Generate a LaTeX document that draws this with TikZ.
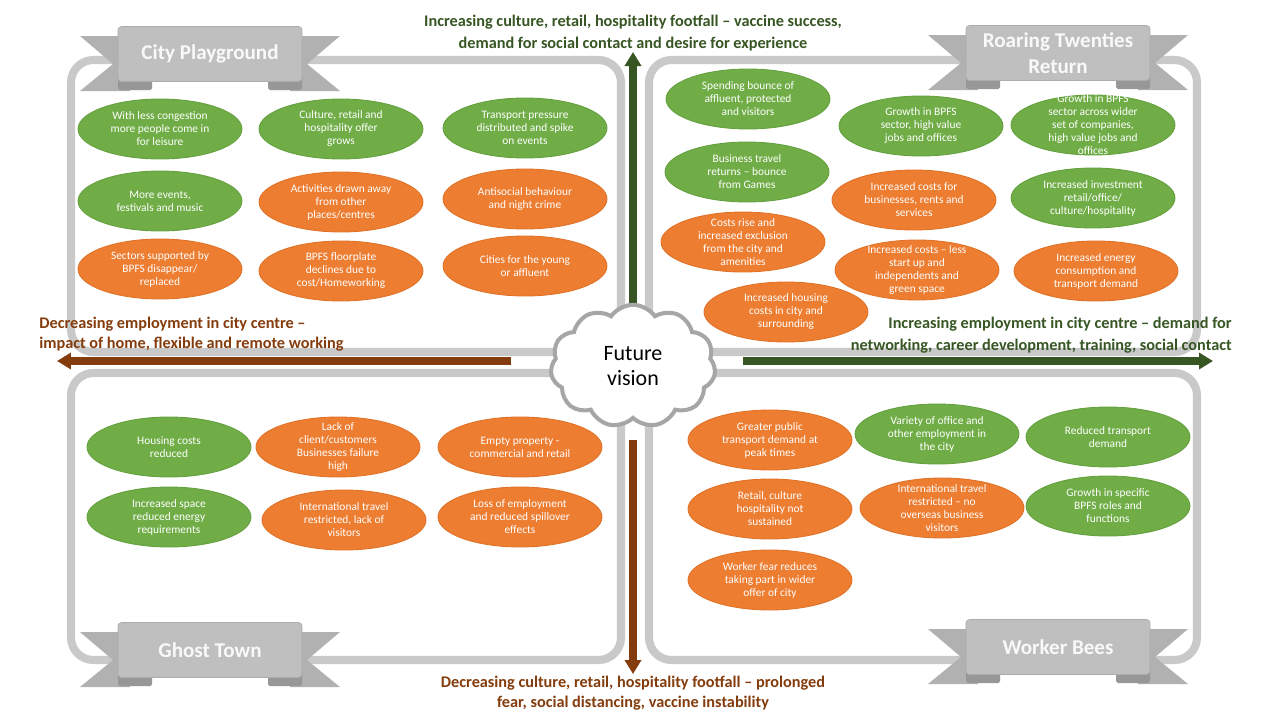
\documentclass[tikz,border=0pt]{standalone}
\usepackage{fontspec}
\setmainfont{Carlito}
\usetikzlibrary{shapes.geometric,shapes.symbols,arrows.meta}
\definecolor{eg}{HTML}{70AD47}
\definecolor{eo}{HTML}{ED7D31}
\definecolor{egd}{HTML}{64A03E}
\definecolor{eod}{HTML}{E07228}
\definecolor{boxg}{HTML}{C9C9C9}
\definecolor{dgreen}{HTML}{375623}
\definecolor{dbrown}{HTML}{843C0C}
\definecolor{bnbody}{HTML}{BFBFBF}
\definecolor{bntail}{HTML}{B1B1B1}
\definecolor{bnfold}{HTML}{979797}
\definecolor{cloudg}{HTML}{A6A6A6}
\newcommand\mkell[5]{\node[#1, label={[etext]center:{#5}}] (#2) at (#3,#4) {};}
\newcommand\mkbanner[4]{%
  \begin{scope}[shift={(#2,#3)}]
    \fill[bntail] (-130,-18) -- (-80,-18) -- (-80,37) -- (-130,37) -- (-97,10) -- cycle;
    \fill[bntail] (130,-18) -- (80,-18) -- (80,37) -- (130,37) -- (97,10) -- cycle;
    \fill[bnfold, rounded corners=1pt] (-92,20) rectangle (-58,36);
    \fill[bnfold, rounded corners=1pt] (92,20) rectangle (58,36);
  \end{scope}
  \node[bannerbox] (#1) at (#2,#3) {#4};}
\begin{document}
\begin{tikzpicture}[x=0.02cm,y=-0.02cm,
  ell/.style={ellipse, minimum width=3.28cm, minimum height=1.2cm, inner sep=0pt, line width=0.5pt},
  gE/.style={ell, fill=eg, draw=egd},
  oE/.style={ell, fill=eo, draw=eod},
  etext/.style={text=white, align=center, font=\fontsize{6.5}{7.4}\selectfont, inner sep=0pt},
  qbox/.style={draw=boxg, line width=4.6pt, rounded corners=0.45cm},
  axg/.style={text=dgreen, inner sep=0pt, font=\bfseries\fontsize{9.25}{12.4}\selectfont},
  axb/.style={text=dbrown, inner sep=0pt, font=\bfseries\fontsize{9.25}{11.4}\selectfont},
  garrow/.style={draw=dgreen, line width=4pt, -{Triangle[width=0.32cm,length=0.28cm]}},
  barrow/.style={draw=dbrown, line width=4pt, -{Triangle[width=0.32cm,length=0.28cm]}},
  bannerbox/.style={rectangle, fill=bnbody, draw=bnbody!90!black, line width=0.4pt, rounded corners=2pt,
    minimum width=3.68cm, minimum height=1.1cm, inner sep=0pt, align=center,
    text=white!95!gray, font=\bfseries\fontsize{12}{14.7}\selectfont},
  fvcloud/.style={cloud, cloud puffs=11, cloud puff arc=110, aspect=1.4, draw=cloudg, line width=2.3pt, fill=white,
    minimum width=3.3cm, minimum height=2.45cm, inner sep=0pt, align=center,
    font=\fontsize{12.5}{14.7}\selectfont}
]
\useasboundingbox (0,0) rectangle (1282,721);
\fill[white] (0,0) rectangle (1282,721);

% quadrant frames
\draw[qbox] (71,60) rectangle (621,352);
\draw[qbox] (649,60) rectangle (1197,352);
\draw[qbox] (71,373) rectangle (621,660);
\draw[qbox] (649,373) rectangle (1197,660);

% axes
\coordinate (cU) at (633,310);
\coordinate (tU) at (633,52);
\coordinate (cD) at (633,440);
\coordinate (tD) at (633,674);
\coordinate (cL) at (511,361);
\coordinate (tL) at (57,361);
\coordinate (cR) at (743,361);
\coordinate (tR) at (1213,361);
\draw[garrow] (cU) -- (tU);
\draw[barrow] (cD) -- (tD);
\draw[barrow] (cL) -- (tL);
\draw[garrow] (cR) -- (tR);

% City Playground
\mkell{gE}{a1}{160}{129}{With less congestion\\more people come in\\for leisure}
\mkell{gE}{a2}{341}{129}{Culture, retail and\\hospitality offer\\grows}
\mkell{gE}{a3}{525}{128}{Transport pressure\\distributed and spike\\on events}
\mkell{gE}{a4}{160}{201}{More events,\\festivals and music}
\mkell{oE}{a5}{341}{202}{Activities drawn away\\from other\\places/centres}
\mkell{oE}{a6}{525}{199}{Antisocial behaviour\\and night crime}
\mkell{oE}{a7}{160}{269}{Sectors supported by\\BPFS disappear/\\replaced}
\mkell{oE}{a8}{341}{271}{BPFS floorplate\\declines due to\\cost/Homeworking}
\mkell{oE}{a9}{525}{266}{Cities for the young\\or affluent}

% Roaring Twenties Return
\mkell{gE}{b1}{748}{99}{Spending bounce of\\affluent, protected\\and visitors}
\mkell{gE}{b2}{921}{126}{Growth in BPFS\\sector, high value\\jobs and offices}
\mkell{gE}{b3}{1093}{125}{Growth in BPFS\\sector across wider\\set of companies,\\high value jobs and\\offices}
\mkell{gE}{b4}{747}{172}{Business travel\\returns -- bounce\\from Games}
\mkell{oE}{b5}{914}{200}{Increased costs for\\businesses, rents and\\services}
\mkell{gE}{b6}{1093}{198}{Increased investment\\retail/office/\\culture/hospitality}
\mkell{oE}{b7}{743}{242}{Costs rise and\\increased exclusion\\from the city and\\amenities}
\mkell{oE}{b8}{917}{270}{Increased costs -- less\\start up and\\independents and\\green space}
\mkell{oE}{b9}{1096}{271}{Increased energy\\consumption and\\transport demand}
\mkell{oE}{b10}{786}{312}{Increased housing\\costs in city and\\surrounding}

% Ghost Town
\mkell{gE}{c1}{169}{447}{Housing costs\\reduced}
\mkell{oE}{c2}{338}{447}{Lack of\\client/customers\\Businesses failure\\high}
\mkell{oE}{c3}{520}{447}{Empty property -\\commercial and retail}
\mkell{gE}{c4}{169}{517}{Increased space\\reduced energy\\requirements}
\mkell{oE}{c5}{344}{520}{International travel\\restricted, lack of\\visitors}
\mkell{oE}{c6}{520}{517}{Loss of employment\\and reduced spillover\\effects}

% Worker Bees
\mkell{oE}{d1}{770}{440}{Greater public\\transport demand at\\peak times}
\mkell{gE}{d2}{937}{434}{Variety of office and\\other employment in\\the city}
\mkell{gE}{d3}{1108}{437}{Reduced transport\\demand}
\mkell{oE}{d4}{770}{509}{Retail, culture\\hospitality not\\sustained}
\mkell{oE}{d5}{942}{508}{International travel\\restricted -- no\\overseas business\\visitors}
\mkell{gE}{d6}{1108}{506}{Growth in specific\\BPFS roles and\\functions}
\mkell{oE}{d7}{770}{580}{Worker fear reduces\\taking part in wider\\offer of city}

% banners
\mkbanner{bCP}{210}{54}{City Playground}
\mkbanner{bRT}{1058}{53}{Roaring Twenties\\Return}
\mkbanner{bGT}{210}{650}{Ghost Town}
\mkbanner{bWB}{1058}{647}{Worker Bees}

% centre cloud
\node[fvcloud] (fv) at (633,366) {Future\\vision};

% axis labels
\node[axg, align=center] (lT) at (633,33) {Increasing culture, retail, hospitality footfall -- vaccine success,\\demand for social contact and desire for experience};
\node[axb, align=left, anchor=west] (lL) at (39,334) {Decreasing employment in city centre --\\impact of home, flexible and remote working};
\node[axg, align=right, anchor=east] (lR) at (1232,335) {Increasing employment in city centre -- demand for\\networking, career development, training, social contact};
\node[axb, align=center] (lB) at (633,693) {Decreasing culture, retail, hospitality footfall -- prolonged\\fear, social distancing, vaccine instability};
\end{tikzpicture}
\end{document}
